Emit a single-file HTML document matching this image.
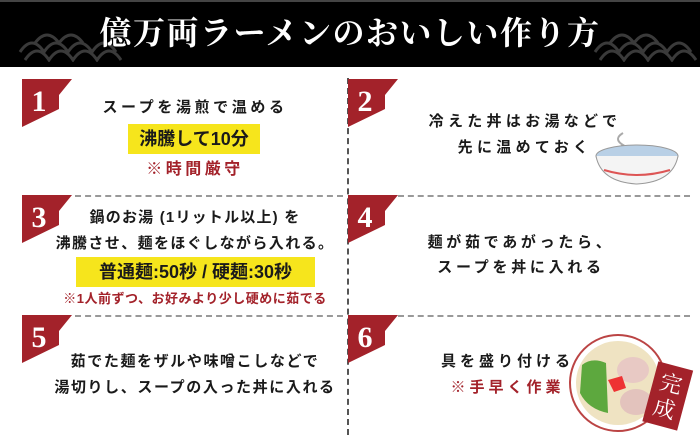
<!DOCTYPE html>
<html><head><meta charset="utf-8"><style>
*{margin:0;padding:0;box-sizing:border-box}
body{width:700px;height:435px;background:#fff;position:relative;overflow:hidden;font-family:"Liberation Sans","Noto Sans CJK JP",sans-serif;color:#1a1a1a}
.hdr{position:absolute;left:0;top:0;width:700px;height:67px;background:#000;border-top:2px solid #444}
.title{position:absolute;left:0;top:8px;width:700px;text-align:center;color:#fff;font-family:"Liberation Serif","Noto Serif CJK SC",serif;font-size:32px;font-weight:700;letter-spacing:1.5px;line-height:50px}
.t{position:absolute;text-align:center;font-weight:700;white-space:nowrap;font-size:15px;line-height:20px}
.red{color:#a3222a}
.yb{position:absolute;background:#f6e51c;text-align:center;font-weight:700;white-space:nowrap}
.hl{position:absolute;height:0;border-top:2px dashed #999}
.vl{position:absolute;width:0;border-left:2px dashed #555}
.badge{position:absolute;width:50px;height:48px}
</style></head><body>
<div class="hdr"></div>
<svg style="position:absolute;left:15px;top:26px" width="110" height="36"><g fill="none" stroke="#3a3a3a" stroke-width="3"><path d="M5 26 q12-18 24 0 q12-18 24 0 q12-18 24 0 q12-18 24 0"/><path d="M10 34 q12-18 24 0 q12-18 24 0 q12-18 24 0 q12-18 24 0"/><path d="M20 17 q12-16 24 0 q12-16 24 0"/></g></svg>
<svg style="position:absolute;left:590px;top:26px" width="110" height="36"><g fill="none" stroke="#3a3a3a" stroke-width="3"><path d="M5 26 q12-18 24 0 q12-18 24 0 q12-18 24 0 q12-18 24 0"/><path d="M10 34 q12-18 24 0 q12-18 24 0 q12-18 24 0 q12-18 24 0"/><path d="M20 17 q12-16 24 0 q12-16 24 0"/></g></svg>
<div class="title">億万両ラーメンのおいしい作り方</div>

<div class="vl" style="left:347px;top:78px;height:357px"></div>
<div class="hl" style="left:75px;top:195px;width:268px"></div>
<div class="hl" style="left:75px;top:315px;width:268px"></div>
<div class="hl" style="left:398px;top:195px;width:292px"></div>
<div class="hl" style="left:398px;top:315px;width:292px"></div>

<svg class="badge" style="left:22px;top:79px"><polygon points="0,0 50,0 37,16 37,30 0,48" fill="#a3222a"/><text x="17" y="32" fill="#fff" font-family="Liberation Serif,serif" font-size="30" font-weight="bold" text-anchor="middle">1</text></svg>
<svg class="badge" style="left:348px;top:79px"><polygon points="0,0 50,0 37,16 37,30 0,48" fill="#a3222a"/><text x="17" y="32" fill="#fff" font-family="Liberation Serif,serif" font-size="30" font-weight="bold" text-anchor="middle">2</text></svg>
<svg class="badge" style="left:22px;top:195px"><polygon points="0,0 50,0 37,16 37,30 0,48" fill="#a3222a"/><text x="17" y="32" fill="#fff" font-family="Liberation Serif,serif" font-size="30" font-weight="bold" text-anchor="middle">3</text></svg>
<svg class="badge" style="left:348px;top:195px"><polygon points="0,0 50,0 37,16 37,30 0,48" fill="#a3222a"/><text x="17" y="32" fill="#fff" font-family="Liberation Serif,serif" font-size="30" font-weight="bold" text-anchor="middle">4</text></svg>
<svg class="badge" style="left:22px;top:315px"><polygon points="0,0 50,0 37,16 37,30 0,48" fill="#a3222a"/><text x="17" y="32" fill="#fff" font-family="Liberation Serif,serif" font-size="30" font-weight="bold" text-anchor="middle">5</text></svg>
<svg class="badge" style="left:348px;top:315px"><polygon points="0,0 50,0 37,16 37,30 0,48" fill="#a3222a"/><text x="17" y="32" fill="#fff" font-family="Liberation Serif,serif" font-size="30" font-weight="bold" text-anchor="middle">6</text></svg>

<!-- row1 -->
<div class="t" style="left:60px;width:270px;top:98px;letter-spacing:3.6px">スープを湯煎で温める</div>
<div class="yb" style="left:128px;top:124px;width:132px;height:30px;font-size:18px;line-height:30px">沸騰して10分</div>
<div class="t red" style="left:60px;width:270px;top:160px;font-size:16px;letter-spacing:3.5px">※時間厳守</div>
<!-- row2 -->
<div class="t" style="left:400px;width:250px;top:112px;letter-spacing:4.3px">冷えた丼はお湯などで</div>
<div class="t" style="left:400px;width:250px;top:138px;letter-spacing:4.3px">先に温めておく</div>
<svg style="position:absolute;left:590px;top:128px" width="95" height="60"><path d="M33 5 q-10 6 0 12 q-10 7 2 14" fill="none" stroke="#aaa" stroke-width="2"/><ellipse cx="47" cy="28" rx="41" ry="11" fill="#b9d0e6" stroke="#999"/><path d="M6 28 q5 26 41 28 q36-2 41-28" fill="#f4f4f4" stroke="#999"/><path d="M14 42 q33 10 66 0" stroke="#d55" stroke-width="2" fill="none"/></svg>
<!-- row3 -->
<div class="t" style="left:55px;width:280px;top:208px;letter-spacing:1.2px">鍋のお湯 (1リットル以上) を</div>
<div class="t" style="left:55px;width:280px;top:234px;letter-spacing:1.4px">沸騰させ、麺をほぐしながら入れる。</div>
<div class="yb" style="left:76px;top:257px;width:239px;height:30px;font-size:18px;line-height:30px">普通麺:50秒 / 硬麺:30秒</div>
<div class="t red" style="left:55px;width:280px;top:289px;font-size:13px;letter-spacing:0.5px">※1人前ずつ、お好みより少し硬めに茹でる</div>
<!-- row4 -->
<div class="t" style="left:400px;width:242px;top:233px;letter-spacing:3.7px">麺が茹であがったら、</div>
<div class="t" style="left:400px;width:242px;top:258px;letter-spacing:3.7px">スープを丼に入れる</div>
<!-- row5 -->
<div class="t" style="left:50px;width:290px;top:352px;letter-spacing:1.6px">茹でた麺をザルや味噌こしなどで</div>
<div class="t" style="left:50px;width:290px;top:378px;letter-spacing:1.6px">湯切りし、スープの入った丼に入れる</div>
<!-- row6 -->
<div class="t" style="left:420px;width:175px;top:352px;letter-spacing:4px">具を盛り付ける</div>
<div class="t red" style="left:420px;width:175px;top:378px;letter-spacing:4px">※手早く作業</div>
<svg style="position:absolute;left:568px;top:325px" width="132" height="110"><circle cx="50" cy="58" r="48" fill="#fff" stroke="#b44" stroke-width="2"/><circle cx="50" cy="58" r="42" fill="#efe3c2"/><path d="M14 40 q10-8 24 -2 l2 50 q-20 -4 -28 -20z" fill="#5da83e"/><ellipse cx="65" cy="45" rx="16" ry="13" fill="#e8c9c4"/><ellipse cx="68" cy="77" rx="16" ry="13" fill="#e3c3bd"/><path d="M40 55 l14 -4 l4 12 l-12 4z" fill="#e33"/><g transform="rotate(15 100 70)"><rect x="82" y="40" width="36" height="62" fill="#a3222a"/><text x="100" y="66" fill="#fff" font-family="Liberation Serif,Noto Serif CJK SC,serif" font-size="22" text-anchor="middle">完</text><text x="100" y="92" fill="#fff" font-family="Liberation Serif,Noto Serif CJK SC,serif" font-size="22" text-anchor="middle">成</text></g></svg>
</body></html>
